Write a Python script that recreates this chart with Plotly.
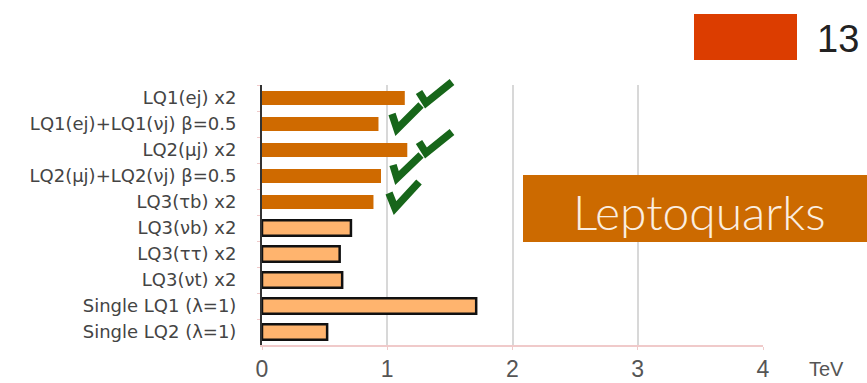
import plotly.graph_objects as go

# Exclusion limits on leptoquark masses (TeV)
channels = [
    "LQ1(ej) x2",
    "LQ1(ej)+LQ1(νj) β=0.5",
    "LQ2(μj) x2",
    "LQ2(μj)+LQ2(νj) β=0.5",
    "LQ3(τb) x2",
    "LQ3(νb) x2",
    "LQ3(ττ) x2",
    "LQ3(νt) x2",
    "Single LQ1 (λ=1)",
    "Single LQ2 (λ=1)",
]
limits = [1.14, 0.93, 1.16, 0.95, 0.89, 0.71, 0.62, 0.64, 1.71, 0.52]
# first five come from the 13 TeV dataset
is_13tev = [True, True, True, True, True, False, False, False, False, False]

x_ticks = [0, 1, 2, 3, 4]

DARK_ORANGE = "#cf6a00"
LIGHT_ORANGE = "#ffb46e"
GREEN = "#17661a"

fill_colors = [DARK_ORANGE if f else LIGHT_ORANGE for f in is_13tev]
edge_widths = [0 if f else 2.5 for f in is_13tev]
bar_widths = [0.54 if f else 0.6 for f in is_13tev]

fig = go.Figure()
fig.add_trace(go.Bar(
    y=channels,
    x=limits,
    orientation="h",
    width=bar_widths,
    marker=dict(color=fill_colors,
                line=dict(color="#111111", width=edge_widths)),
    showlegend=False,
))

# plot-area geometry used to place the decorations in paper units
L, R, T, B = 262, 763, 85, 345


def px(xp):
    return (xp - L) / (R - L)


def py(yp):
    return (B - yp) / (B - T)


# hand-drawn style tick marks next to the 13 TeV results
checks = [
    [(392, 114), (397, 129), (421, 105)],
    [(419, 92), (426, 103), (452, 82)],
    [(393, 165), (397, 178), (421, 155)],
    [(419, 142), (426, 153), (452, 132)],
    [(389, 193), (395, 208), (419, 182)],
]
shapes = []
for pts in checks:
    path = "M " + " L ".join(f"{px(a):.4f},{py(b):.4f}" for a, b in pts)
    shapes.append(dict(type="path", xref="paper", yref="paper", path=path,
                       line=dict(color=GREEN, width=7.5)))

# legend swatch for 13 TeV
shapes.append(dict(type="rect", xref="paper", yref="paper",
                   x0=px(694), x1=px(797), y0=py(60), y1=py(14),
                   fillcolor="#dc3d00", line=dict(width=0), layer="above"))
# banner
shapes.append(dict(type="rect", xref="paper", yref="paper",
                   x0=px(523), x1=px(880), y0=py(242), y1=py(175),
                   fillcolor="#cc6a00", line=dict(width=0), layer="above"))

annotations = [
    dict(text="13", xref="paper", yref="paper", x=px(815), y=py(39),
         xanchor="left", yanchor="middle", showarrow=False,
         font=dict(family="Liberation Sans", size=38, color="#222222")),
    dict(text="Leptoquarks", xref="paper", yref="paper", x=px(699), y=py(211),
         xanchor="center", yanchor="middle", showarrow=False,
         font=dict(family="Lato", size=48, color="#fbeee0", weight=300)),
    dict(text="TeV", xref="paper", yref="paper", x=px(826), y=py(369),
         xanchor="center", yanchor="middle", showarrow=False,
         font=dict(family="Liberation Sans", size=20, color="#555555")),
]

fig.update_layout(
    width=867, height=383, autosize=False,
    margin=dict(l=L, r=867 - R, t=T, b=383 - B, pad=0),
    paper_bgcolor="white", plot_bgcolor="white",
    bargap=0.45,
    shapes=shapes,
    annotations=annotations,
    xaxis=dict(
        range=[0, 4], tickvals=x_ticks, ticktext=[str(t) for t in x_ticks],
        showgrid=True, gridcolor="#d8d8d8", gridwidth=1.5,
        zeroline=False, showline=True, linecolor="#f0caca", linewidth=1.5,
        ticks="outside", ticklen=3, tickcolor="#f0caca",
        tickfont=dict(family="Liberation Sans", size=23, color="#555555"),
        ticklabelstandoff=0, fixedrange=True, automargin=False,
    ),
    yaxis=dict(
        autorange="reversed", type="category",
        showline=True, linecolor="#333333", linewidth=2,
        ticks="outside", ticklen=3, tickcolor="#f0caca", tickson="boundaries",
        showgrid=False,
        tickfont=dict(family="DejaVu Sans", size=18, color="#444444"),
        ticklabelstandoff=20, fixedrange=True, automargin=False,
    ),
)

fig.write_html("out.html")
